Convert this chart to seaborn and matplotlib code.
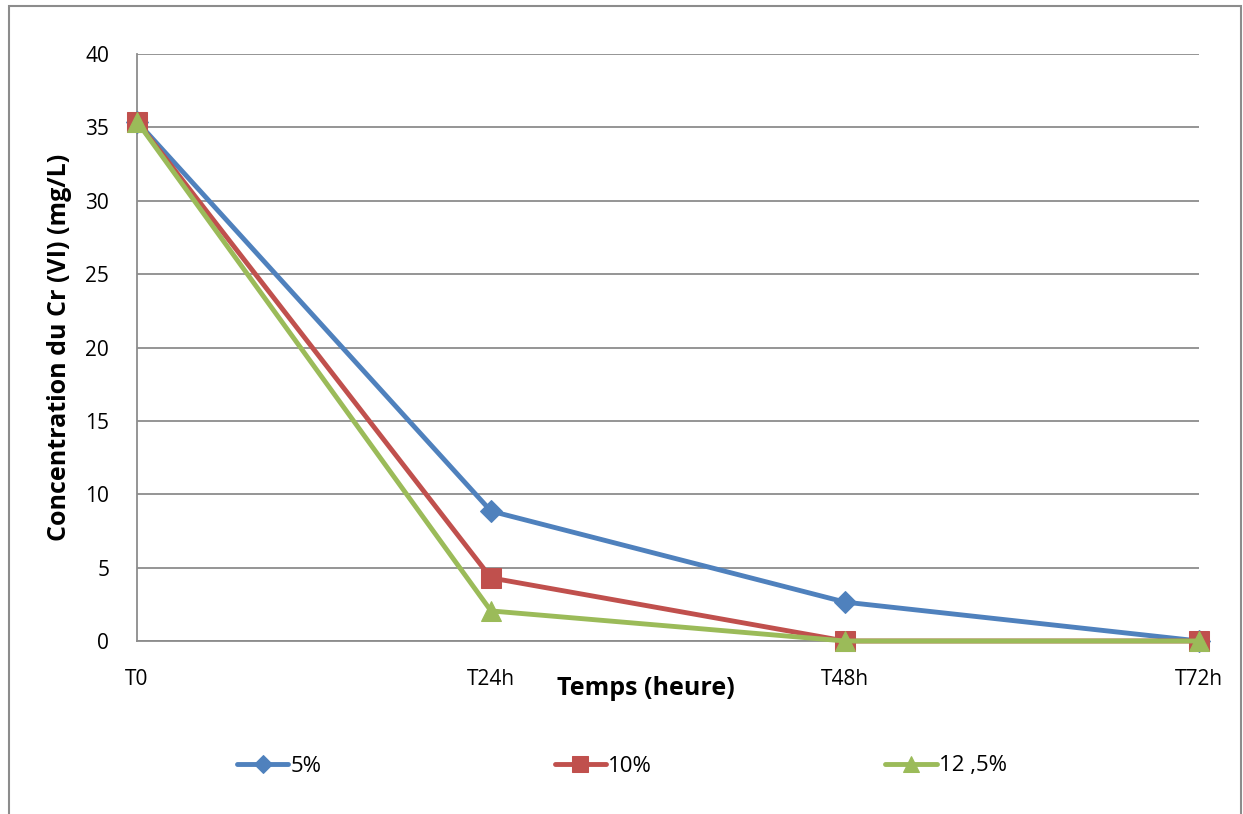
import matplotlib
matplotlib.use("Agg")
import matplotlib.pyplot as plt
import seaborn as sns
import pandas as pd
from matplotlib.patches import Rectangle

sns.set_style("white")
plt.rcParams['font.family'] = ['Open Sans', 'DejaVu Sans']
plt.rcParams['text.color'] = 'black'
plt.rcParams['xtick.color'] = 'black'
plt.rcParams['ytick.color'] = 'black'
plt.rcParams['axes.labelcolor'] = 'black'

# Data
times = ['T0', 'T24h', 'T48h', 'T72h']
conc_5 = [35.4, 8.85, 2.65, 0.0]
conc_10 = [35.4, 4.3, 0.0, 0.0]
conc_12_5 = [35.4, 2.05, 0.0, 0.0]
series_names = ['5%', '10%', '12 ,5%']

colors = ['#4F81BD', '#C0504D', '#9BBB59']
markers = ['D', 's', '^']
sizes = [11, 14, 14]

df = pd.DataFrame({'time': times * 3,
                   'conc': conc_5 + conc_10 + conc_12_5,
                   'serie': [s for s in series_names for _ in times]})
df['x'] = df['time'].map({t: i for i, t in enumerate(times)})

fig = plt.figure(figsize=(12.43, 8.14), dpi=100)
ax = fig.add_axes([137 / 1243, 173 / 814, 1062 / 1243, 587 / 814])

for name, col, mk, ms in zip(series_names, colors, markers, sizes):
    d = df[df['serie'] == name]
    sns.lineplot(data=d, x='x', y='conc', ax=ax, color=col, marker=mk,
                 markersize=ms, markeredgecolor=col, linewidth=3.5,
                 label=name, legend=False, clip_on=False, zorder=3)

ax.set_xlim(0, 3)
ax.set_ylim(0, 40)
ax.set_yticks(range(0, 41, 5))
ax.set_xticks(range(len(times)))
ax.set_xticklabels(times)
ax.tick_params(axis='both', labelsize=15, length=0)
ax.tick_params(axis='x', pad=20)
ax.tick_params(axis='y', pad=20)
ax.yaxis.grid(True, color='#8C8C8C', linewidth=1.3)
ax.set_axisbelow(True)
for s in ['top', 'right']:
    ax.spines[s].set_visible(False)
ax.spines['left'].set_color('#8C8C8C')
ax.spines['bottom'].set_color('#8C8C8C')
ax.spines['left'].set_linewidth(1.3)
ax.spines['bottom'].set_linewidth(1.3)

ax.set_xlabel('Temps (heure)', fontsize=18, fontweight='bold')
ax.xaxis.set_label_coords((646 - 137) / 1062, -(676 - 641) / 587)
ax.set_ylabel('Concentration du Cr (VI) (mg/L)', fontsize=18, fontweight='bold')
ax.yaxis.set_label_coords(-(137 - 72) / 1062, 0.5)

handles, labels = ax.get_legend_handles_labels()
fig.legend(handles, labels, loc='center', bbox_to_anchor=(622 / 1243, 1 - 766 / 814),
           ncol=3, frameon=False, fontsize=16, handlelength=2.3,
           columnspacing=10.5, handletextpad=0.1, markerscale=0.85)

fig.add_artist(Rectangle((9 / 1243, -0.01), (1241 - 9) / 1243, 808 / 814 + 0.01,
                         transform=fig.transFigure, fill=False,
                         edgecolor='#8C8C8C', linewidth=1.5))

fig.savefig('out.png', dpi=100)
